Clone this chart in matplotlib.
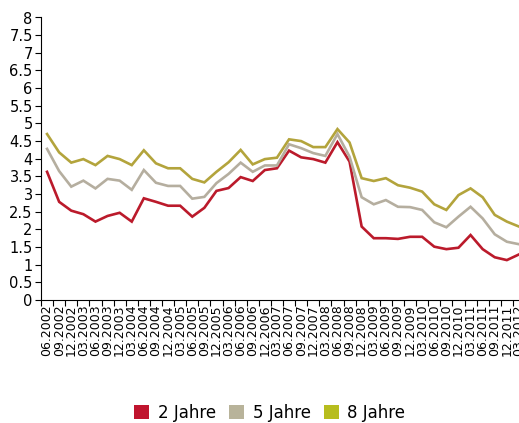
import numpy as np
import matplotlib
matplotlib.use("Agg")
import matplotlib.pyplot as plt
from matplotlib.patches import Patch

quarters = [
    "06.2002", "09.2002", "12.2002", "03.2003", "06.2003", "09.2003", "12.2003", "03.2004",
    "06.2004", "09.2004", "12.2004", "03.2005", "06.2005", "09.2005", "12.2005", "03.2006",
    "06.2006", "09.2006", "12.2006", "03.2007", "06.2007", "09.2007", "12.2007", "03.2008",
    "06.2008", "09.2008", "12.2008", "03.2009", "06.2009", "09.2009", "12.2009", "03.2010",
    "06.2010", "09.2010", "12.2010", "03.2011", "06.2011", "09.2011", "12.2011", "03.2012",
]

jahre2 = [3.63, 2.78, 2.53, 2.43, 2.22, 2.38, 2.47, 2.22, 2.88, 2.78,
          2.67, 2.67, 2.36, 2.61, 3.09, 3.17, 3.48, 3.37, 3.68, 3.73,
          4.23, 4.04, 3.99, 3.89, 4.47, 3.92, 2.08, 1.75, 1.75, 1.73,
          1.79, 1.79, 1.51, 1.44, 1.48, 1.84, 1.44, 1.21, 1.13, 1.29]

jahre5 = [4.28, 3.65, 3.21, 3.38, 3.16, 3.43, 3.38, 3.12, 3.68, 3.32,
          3.23, 3.23, 2.87, 2.92, 3.31, 3.57, 3.89, 3.63, 3.81, 3.81,
          4.41, 4.30, 4.16, 4.08, 4.70, 4.06, 2.91, 2.71, 2.83, 2.64,
          2.63, 2.55, 2.20, 2.06, 2.36, 2.64, 2.31, 1.86, 1.65, 1.58]

jahre8 = [4.70, 4.18, 3.89, 3.99, 3.82, 4.08, 3.99, 3.82, 4.24, 3.87,
          3.73, 3.73, 3.43, 3.33, 3.63, 3.90, 4.25, 3.84, 3.99, 4.03,
          4.55, 4.50, 4.33, 4.33, 4.84, 4.46, 3.45, 3.37, 3.45, 3.25,
          3.18, 3.07, 2.71, 2.55, 2.97, 3.16, 2.91, 2.41, 2.22, 2.08]

labels = ["2 Jahre", "5 Jahre", "8 Jahre"]
line_colors = ["#bb1a2b", "#b5ae9f", "#b3a43c"]
legend_colors = ["#c0142e", "#b8b39a", "#b7bd1e"]

fig = plt.figure(figsize=(5.19, 4.23), dpi=100)
ax = fig.add_axes([41 / 519, 1 - 300 / 423, 484 / 519, 282.5 / 423])

x = np.arange(len(quarters))
for vals, c in zip([jahre2, jahre5, jahre8], line_colors):
    ax.plot(x, vals, color=c, lw=1.9, solid_joinstyle="miter")

ax.set_xlim(-0.5, len(quarters) - 0.5)
ax.set_ylim(0, 8)
ax.set_yticks(np.arange(0, 8.01, 0.5))
ax.set_yticklabels([f"{v:g}" for v in np.arange(0, 8.01, 0.5)])

# ticks between quarters, labels centred on each quarter
ax.set_xticks(np.arange(len(quarters) + 1) - 0.5)
ax.set_xticklabels([])
ax.set_xticks(x, minor=True)
ax.set_xticklabels(quarters, minor=True, rotation=90, fontsize=9)
ax.tick_params(axis="x", which="minor", length=0, pad=3)
ax.tick_params(axis="x", which="major", length=4, direction="out")
ax.tick_params(axis="y", length=4, direction="out", labelsize=10.5, pad=2)

for s in ["top", "right"]:
    ax.spines[s].set_visible(False)

handles = [Patch(facecolor=c, edgecolor="none") for c in legend_colors]
fig.legend(handles, labels, loc="center", bbox_to_anchor=(0.52, 1 - 413 / 423),
           ncol=3, frameon=False, fontsize=12, handlelength=0.9, handleheight=0.9,
           handletextpad=0.5, columnspacing=0.8)

fig.savefig("out.png", dpi=100)
